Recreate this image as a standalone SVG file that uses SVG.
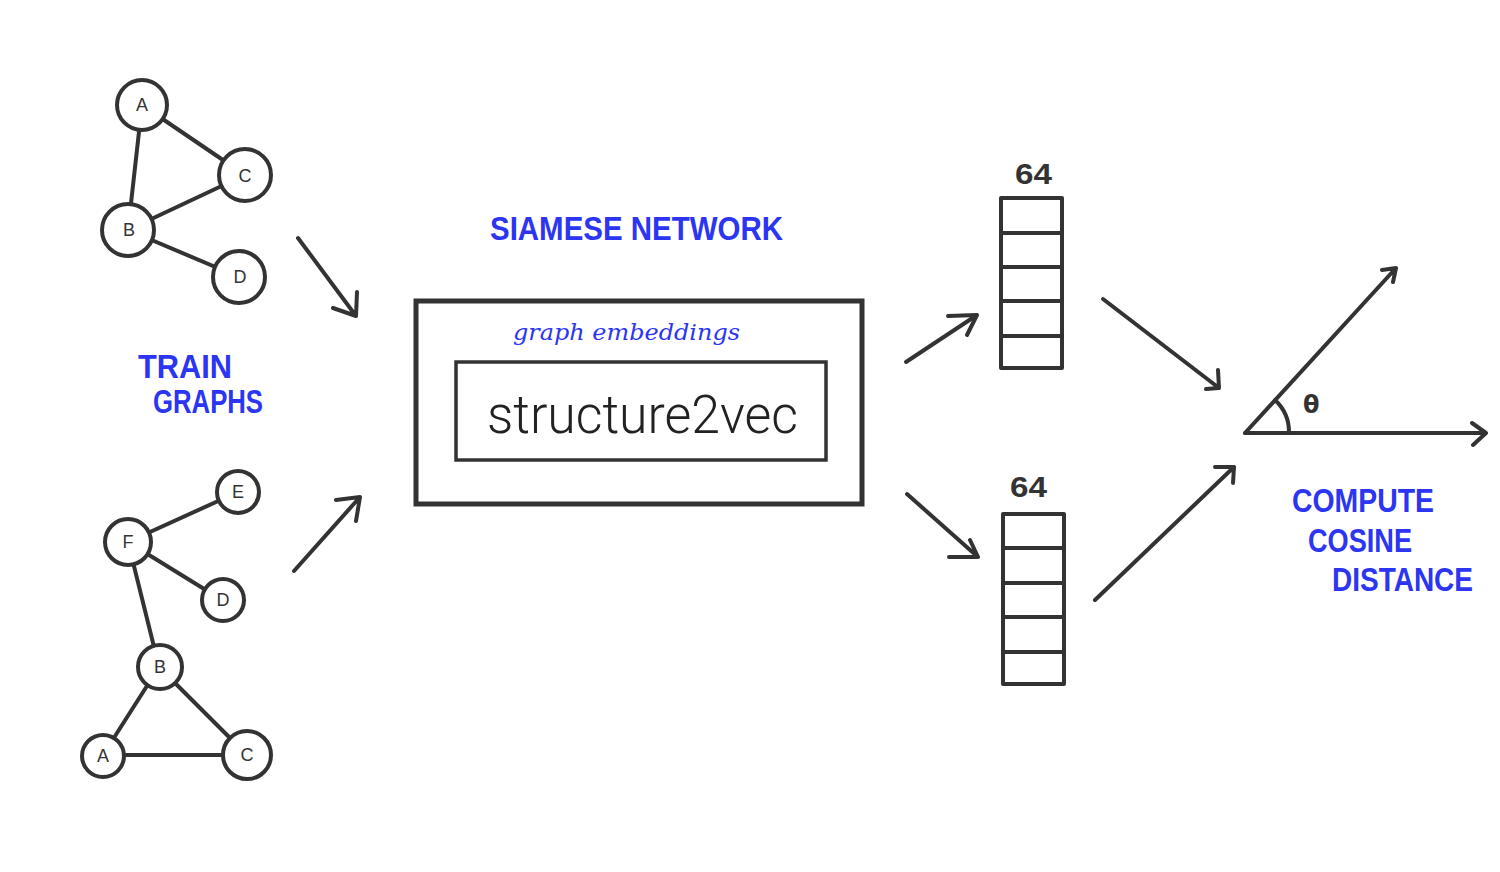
<svg xmlns="http://www.w3.org/2000/svg" width="1500" height="872" viewBox="0 0 1500 872">
<style>
.ln{stroke:#333;stroke-width:4;fill:none;stroke-linecap:round;stroke-linejoin:round}
.nd{stroke:#333;stroke-width:4;fill:#fff}
.nl{font-family:"Liberation Sans",Arial,sans-serif;font-size:18px;fill:#333;text-anchor:middle;dominant-baseline:central}
.bl{font-family:"Liberation Sans",Arial,sans-serif;font-weight:bold;fill:#2b35f2}
.num{font-family:"Liberation Sans",Arial,sans-serif;font-weight:bold;font-size:30px;fill:#333}
</style>
<rect width="1500" height="872" fill="#fff"/>
<g id="connectors">
  <line class="ln" x1="142" y1="105" x2="128" y2="230"/>
  <line class="ln" x1="142" y1="105" x2="245" y2="175"/>
  <line class="ln" x1="128" y1="230" x2="245" y2="175"/>
  <line class="ln" x1="128" y1="230" x2="239" y2="277"/>
  <line class="ln" x1="128" y1="542" x2="238" y2="492"/>
  <line class="ln" x1="128" y1="542" x2="222" y2="600"/>
  <line class="ln" x1="128" y1="542" x2="159" y2="667"/>
  <line class="ln" x1="159" y1="667" x2="103" y2="755"/>
  <line class="ln" x1="159" y1="667" x2="247" y2="755"/>
  <line class="ln" x1="103" y1="755" x2="247" y2="755"/>
  <path class="ln" d="M298 238 L356 316 M357 292 L356 316 L333 308"/>
  <path class="ln" d="M294 571 L360 497 M336 500 L360 497 L356 521"/>
  <path class="ln" d="M906 362 L977 315 M948 316 L977 315 L967 335"/>
  <path class="ln" d="M907 494 L978 557 M949 557 L978 557 L970 540"/>
  <path class="ln" d="M1103 299 L1219 388 M1206 389 L1219 388 L1218 370"/>
  <path class="ln" d="M1095 600 L1234 467 M1215 467 L1234 467 L1233 483"/>
  <path class="ln" d="M1245 433 L1486 433 M1472 423 L1486 433 L1473 445"/>
  <path class="ln" d="M1245 433 L1396 268 M1382 270 L1396 268 L1393 282"/>
  <path class="ln" d="M1275 400 A44 44 0 0 1 1289 433"/>
</g>
<g id="g1-A"><circle class="nd" cx="142" cy="105" r="25"/><text class="nl" x="142" y="105">A</text></g>
<g id="g1-C"><circle class="nd" cx="245" cy="175" r="26"/><text class="nl" x="245" y="176">C</text></g>
<g id="g1-B"><circle class="nd" cx="128" cy="230" r="26"/><text class="nl" x="129" y="230">B</text></g>
<g id="g1-D"><circle class="nd" cx="239" cy="277" r="26"/><text class="nl" x="240" y="277">D</text></g>
<g id="g2-E"><circle class="nd" cx="238" cy="492" r="21"/><text class="nl" x="238" y="492">E</text></g>
<g id="g2-F"><circle class="nd" cx="128" cy="542" r="23"/><text class="nl" x="128" y="542">F</text></g>
<g id="g2-D"><circle class="nd" cx="223" cy="600" r="21"/><text class="nl" x="223" y="600">D</text></g>
<g id="g2-B"><circle class="nd" cx="160" cy="667" r="22"/><text class="nl" x="160" y="667">B</text></g>
<g id="g2-A"><circle class="nd" cx="103" cy="756" r="21"/><text class="nl" x="103" y="756">A</text></g>
<g id="g2-C"><circle class="nd" cx="247" cy="755" r="24"/><text class="nl" x="247" y="755">C</text></g>
<g id="train-label">
  <text class="bl" x="138" y="378" font-size="33" textLength="94" lengthAdjust="spacingAndGlyphs">TRAIN</text>
  <text class="bl" x="153" y="413" font-size="33" textLength="110" lengthAdjust="spacingAndGlyphs">GRAPHS</text>
</g>
<g id="siamese-network">
  <text class="bl" x="490" y="240" font-size="34" textLength="293" lengthAdjust="spacingAndGlyphs">SIAMESE NETWORK</text>
  <rect x="416" y="301" width="446" height="203" fill="none" stroke="#333" stroke-width="5"/>
  <text x="513" y="340" font-family="'DejaVu Serif',serif" font-style="italic" font-size="22" fill="#2b35f2" textLength="227" lengthAdjust="spacingAndGlyphs">graph  embeddings</text>
</g>
<g id="structure2vec">
  <rect x="456" y="362" width="370" height="98" fill="none" stroke="#333" stroke-width="3.5"/>
  <text x="487" y="433" font-family="Roboto,'Liberation Sans',sans-serif" font-weight="300" font-size="54" fill="#222" textLength="311" lengthAdjust="spacingAndGlyphs">structure2vec</text>
</g>
<g id="vector-top">
  <text class="num" x="1015" y="184" textLength="37" lengthAdjust="spacingAndGlyphs">64</text>
  <rect class="ln" x="1001" y="198" width="61" height="170"/>
  <path class="ln" d="M1001 233 H1062 M1001 267 H1062 M1001 301 H1062 M1001 336 H1062"/>
</g>
<g id="vector-bottom">
  <text class="num" x="1010" y="497" textLength="37" lengthAdjust="spacingAndGlyphs">64</text>
  <rect class="ln" x="1003" y="514" width="61" height="170"/>
  <path class="ln" d="M1003 548 H1064 M1003 583 H1064 M1003 617 H1064 M1003 652 H1064"/>
</g>
<g id="cosine">
  <text x="1303" y="413" font-family="'DejaVu Sans',sans-serif" font-weight="bold" font-size="24" fill="#333">θ</text>
  <text class="bl" x="1292" y="512" font-size="33" textLength="142" lengthAdjust="spacingAndGlyphs">COMPUTE</text>
  <text class="bl" x="1308" y="552" font-size="33" textLength="104" lengthAdjust="spacingAndGlyphs">COSINE</text>
  <text class="bl" x="1332" y="591" font-size="33" textLength="141" lengthAdjust="spacingAndGlyphs">DISTANCE</text>
</g>
</svg>
